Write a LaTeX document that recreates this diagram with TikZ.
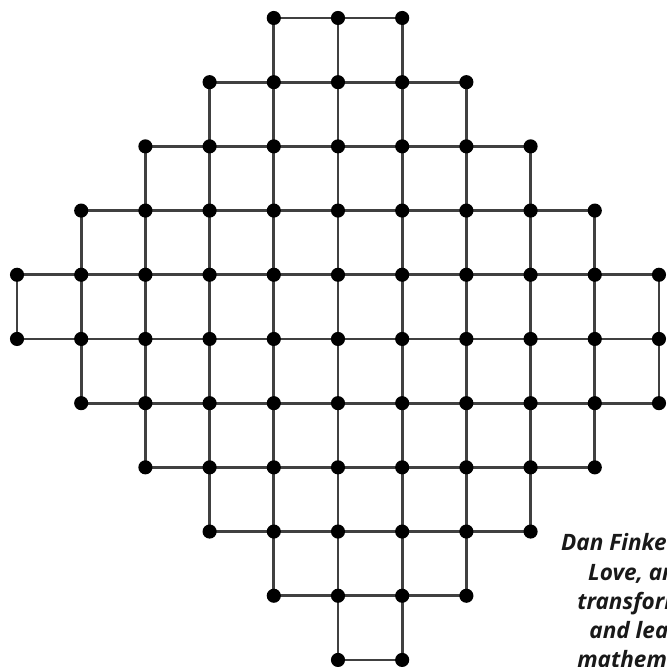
\documentclass[tikz,border=0pt]{standalone}
\usepackage{fontspec}
\newfontfamily\notefont{Open Sans}
\usetikzlibrary{positioning}

\tikzset{
  dot/.style={circle,fill=black,inner sep=0pt,minimum size=2.2mm},
  link/.style={line width=1.2pt,draw=black!75},
  note/.style={anchor=base west,inner sep=0pt,text=black!90,
    font=\notefont\bfseries\itshape\fontsize{10}{12}\selectfont}
}

\begin{document}
\begin{tikzpicture}[x=1cm,y=-1cm]
  \useasboundingbox (-0.265,-0.28) rectangle (10.125,10.11);
  \clip (-0.265,-0.28) rectangle (10.125,10.11);
  % points of the board, row by row
  \foreach \r/\a/\b in {0/4/6,1/3/7,2/2/8,3/1/9,4/0/10,5/0/10,6/1/10,7/2/9,8/3/8,9/4/7,10/5/6}
    \foreach \c in {\a,...,\b}
      \coordinate (p\c-\r) at (\c,\r);
  % rows
  \foreach \r/\a/\b in {0/4/6,1/3/7,2/2/8,3/1/9,4/0/10,5/0/10,6/1/10,7/2/9,8/3/8,9/4/7,10/5/6}
    \draw[link] (p\a-\r) -- (p\b-\r);
  % columns
  \foreach \c/\a/\b in {0/4/5,1/3/6,2/2/7,3/1/8,4/0/9,5/0/10,6/0/10,7/1/9,8/2/8,9/3/7,10/4/6}
    \draw[link] (p\c-\a) -- (p\c-\b);
  % dots
  \foreach \r/\a/\b in {0/4/6,1/3/7,2/2/8,3/1/9,4/0/10,5/0/10,6/1/10,7/2/9,8/3/8,9/4/7,10/5/6}
    \foreach \c in {\a,...,\b}
      \node[dot] (d\c-\r) at (p\c-\r) {};
  % caption, cut at the edge
  \node[note] (cap1) at (8.47,8.30) {Dan Finke};
  \node[note] (cap2) at (8.89,8.765) {Love, an};
  \node[note] (cap3) at (8.72,9.22) {transform};
  \node[note] (cap4) at (8.91,9.67) {and lea};
  \node[note] (cap5) at (8.72,10.11) {mathem};
\end{tikzpicture}
\end{document}
